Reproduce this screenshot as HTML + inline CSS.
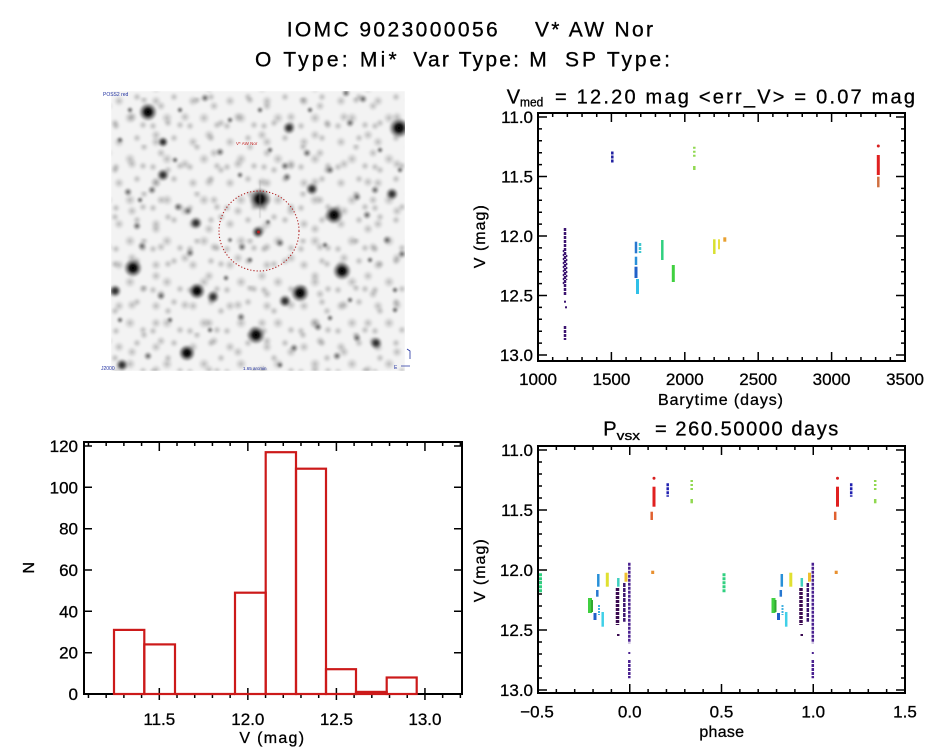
<!DOCTYPE html>
<html><head><meta charset="utf-8"><style>
html,body{margin:0;padding:0;background:#fff;}
svg{display:block;}
text{font-family:"Liberation Sans",sans-serif;fill:#000;stroke:#000;stroke-width:0.3;}
</style></head><body>
<svg width="944" height="747" viewBox="0 0 944 747" xmlns="http://www.w3.org/2000/svg">
<defs>
<filter id="blur" x="0" y="0" width="1" height="1"><feGaussianBlur stdDeviation="0.9"/></filter>
<radialGradient id="fg"><stop offset="0" stop-color="#707070" stop-opacity="0.42"/><stop offset="0.5" stop-color="#888" stop-opacity="0.22"/><stop offset="1" stop-color="#aaa" stop-opacity="0"/></radialGradient>
<radialGradient id="sb"><stop offset="0" stop-color="#000"/><stop offset="0.35" stop-color="#141414"/><stop offset="0.7" stop-color="#5a5a5a" stop-opacity="0.55"/><stop offset="1" stop-color="#aaa" stop-opacity="0"/></radialGradient>
<radialGradient id="sm"><stop offset="0" stop-color="#1e1e1e"/><stop offset="0.4" stop-color="#3c3c3c" stop-opacity="0.85"/><stop offset="1" stop-color="#999" stop-opacity="0"/></radialGradient>
<radialGradient id="ss"><stop offset="0" stop-color="#4a4a4a" stop-opacity="0.9"/><stop offset="0.5" stop-color="#777" stop-opacity="0.5"/><stop offset="1" stop-color="#aaa" stop-opacity="0"/></radialGradient>
<pattern id="bg1" width="37" height="41" patternUnits="userSpaceOnUse" x="111" y="91">
<circle cx="8" cy="10" r="6" fill="url(#fg)"/><circle cx="26" cy="6" r="5" fill="url(#fg)"/><circle cx="19" cy="27" r="6.5" fill="url(#fg)"/><circle cx="32" cy="34" r="5" fill="url(#fg)"/><circle cx="5" cy="35" r="5" fill="url(#fg)"/>
</pattern>
<pattern id="bg2" width="53" height="47" patternUnits="userSpaceOnUse" x="120" y="97">
<circle cx="12" cy="20" r="6" fill="url(#fg)"/><circle cx="41" cy="9" r="5.5" fill="url(#fg)"/><circle cx="36" cy="38" r="6" fill="url(#fg)"/><circle cx="24" cy="3" r="5" fill="url(#fg)"/><circle cx="48" cy="26" r="5" fill="url(#fg)"/>
</pattern>
<clipPath id="imgclip"><rect x="111" y="91" width="294" height="280"/></clipPath>

<path id="p1l" d="M538 117h9M538 128.9h4M538 140.8h4M538 152.7h4M538 164.6h4M538 176.5h9M538 188.4h4M538 200.3h4M538 212.2h4M538 224.1h4M538 236h9M538 247.9h4M538 259.8h4M538 271.7h4M538 283.6h4M538 295.5h9M538 307.4h4M538 319.3h4M538 331.2h4M538 343.1h4M538 355h9" stroke="#000" stroke-width="1.5" fill="none"/>
<path id="p1b" d="M538 361v-9M552.68 361v-4M567.36 361v-4M582.04 361v-4M596.72 361v-4M611.4 361v-9M626.08 361v-4M640.76 361v-4M655.44 361v-4M670.12 361v-4M684.8 361v-9M699.48 361v-4M714.16 361v-4M728.84 361v-4M743.52 361v-4M758.2 361v-9M772.88 361v-4M787.56 361v-4M802.24 361v-4M816.92 361v-4M831.6 361v-9M846.28 361v-4M860.96 361v-4M875.64 361v-4M890.32 361v-4M905 361v-9" stroke="#000" stroke-width="1.5" fill="none"/>
<path id="p2l" d="M538 450h9M538 462h4M538 474h4M538 486h4M538 498h4M538 510h9M538 522h4M538 534h4M538 546h4M538 558h4M538 570h9M538 582h4M538 594h4M538 606h4M538 618h4M538 630h9M538 642h4M538 654h4M538 666h4M538 678h4M538 690h9" stroke="#000" stroke-width="1.5" fill="none"/>
<path id="p2b" d="M538 693v-9M556.35 693v-4M574.7 693v-4M593.05 693v-4M611.4 693v-4M629.75 693v-9M648.1 693v-4M666.45 693v-4M684.8 693v-4M703.15 693v-4M721.5 693v-9M739.85 693v-4M758.2 693v-4M776.55 693v-4M794.9 693v-4M813.25 693v-9M831.6 693v-4M849.95 693v-4M868.3 693v-4M886.65 693v-4M905 693v-9" stroke="#000" stroke-width="1.5" fill="none"/>
<path id="hl" d="M84 694h8M84 652.7h8M84 611.3h8M84 570h8M84 528.7h8M84 487.3h8M84 446h8" stroke="#000" stroke-width="1.5" fill="none"/>

<g id="phA">
<line x1="540.5" y1="573.3" x2="540.5" y2="593.3" stroke="#30d080" stroke-width="3" stroke-dasharray="3 1"/>
<line x1="590" y1="598" x2="590" y2="613" stroke="#40d040" stroke-width="4"/>
<line x1="592" y1="600" x2="592" y2="612" stroke="#30a830" stroke-width="2"/>
<line x1="598.3" y1="574" x2="598.3" y2="586.7" stroke="#2890d8" stroke-width="2.5"/>
<line x1="597.3" y1="590" x2="597.3" y2="596.7" stroke="#2878d0" stroke-width="2.5"/>
<line x1="595" y1="613" x2="595" y2="620" stroke="#2060c8" stroke-width="3"/>
<line x1="599" y1="605" x2="599" y2="615" stroke="#40b0e0" stroke-width="2" stroke-dasharray="2 1"/>
<line x1="602.7" y1="612" x2="602.7" y2="626.7" stroke="#40d0e8" stroke-width="2.5"/>
<line x1="607.3" y1="572.7" x2="607.3" y2="586.7" stroke="#e0e030" stroke-width="3"/>
<line x1="618.3" y1="578" x2="618.3" y2="586.7" stroke="#40d0c0" stroke-width="2.5"/>
<line x1="617.5" y1="588" x2="617.5" y2="625" stroke="#3a0a50" stroke-width="3.5" stroke-dasharray="3 1"/>
<rect x="617" y="634" width="2.5" height="2" fill="#3a0a50"/>
<line x1="624.3" y1="583" x2="624.3" y2="621.7" stroke="#3c1470" stroke-width="2.5" stroke-dasharray="4 1"/>
<line x1="626" y1="572.7" x2="626" y2="581.7" stroke="#f0c030" stroke-width="3"/>
<line x1="629.3" y1="562.7" x2="629.3" y2="643.3" stroke="#4a2090" stroke-width="2.5" stroke-dasharray="3 1"/>
<rect x="628.3" y="652" width="2" height="2" fill="#4a2090"/>
<line x1="629.3" y1="660" x2="629.3" y2="678.3" stroke="#4a2090" stroke-width="2.5" stroke-dasharray="3 1"/>
<line x1="652.7" y1="570.7" x2="652.7" y2="574" stroke="#e89030" stroke-width="3"/>
<circle cx="654" cy="478.3" r="1.5" fill="#d82020"/>
<line x1="654" y1="486.7" x2="654" y2="506.7" stroke="#e02020" stroke-width="3"/>
<line x1="651.7" y1="511.7" x2="651.7" y2="520" stroke="#e06030" stroke-width="2.5"/>
<line x1="667.7" y1="483.3" x2="667.7" y2="496.7" stroke="#2020b0" stroke-width="2.5" stroke-dasharray="3 1"/>
<line x1="691.7" y1="480" x2="691.7" y2="490" stroke="#90d850" stroke-width="2.5" stroke-dasharray="2 2"/>
<line x1="691.7" y1="499" x2="691.7" y2="503.3" stroke="#90d850" stroke-width="2.5"/>
</g>
</defs>

<!-- Main titles -->
<text x="286.7" y="36.7" font-size="21" textLength="211" lengthAdjust="spacing">IOMC 9023000056</text>
<text x="535" y="36.7" font-size="21" textLength="118" lengthAdjust="spacing">V* AW Nor</text>
<text x="255" y="66.5" font-size="21" textLength="141.7" lengthAdjust="spacing">O Type: Mi*</text>
<text x="413.3" y="66.5" font-size="21" textLength="133.4" lengthAdjust="spacing">Var Type: M</text>
<text x="565" y="66.5" font-size="21" textLength="105" lengthAdjust="spacing">SP Type:</text>

<!-- Star field image -->
<g clip-path="url(#imgclip)">
<g filter="url(#blur)">
<rect x="111" y="91" width="294" height="280" fill="#f3f3f3"/>
<rect x="111" y="91" width="294" height="280" fill="url(#bg1)"/>
<rect x="111" y="91" width="294" height="280" fill="url(#bg2)"/>
<g fill="url(#ss)">
<circle cx="188" cy="211" r="5"/><circle cx="178" cy="207" r="5"/><circle cx="357" cy="338" r="5"/><circle cx="294" cy="348" r="5"/><circle cx="307" cy="153" r="5"/><circle cx="285" cy="166" r="5"/><circle cx="287" cy="177" r="5"/><circle cx="220" cy="152" r="5"/><circle cx="161" cy="296" r="5"/><circle cx="148" cy="356" r="5"/><circle cx="402" cy="254" r="5"/><circle cx="387" cy="240" r="5"/><circle cx="241" cy="317" r="5"/><circle cx="318" cy="327" r="5"/><circle cx="337" cy="356" r="5"/><circle cx="280" cy="243" r="5"/><circle cx="242" cy="247" r="5"/><circle cx="190" cy="253" r="5"/><circle cx="142" cy="246" r="5"/><circle cx="137" cy="226" r="5"/><circle cx="367" cy="215" r="5"/><circle cx="357" cy="197" r="5"/><circle cx="375" cy="190" r="5"/><circle cx="128" cy="192" r="5"/><circle cx="152" cy="190" r="5"/><circle cx="330" cy="170" r="5"/><circle cx="350" cy="123" r="5"/><circle cx="363" cy="99" r="5"/><circle cx="205" cy="98" r="5"/><circle cx="346" cy="93" r="5"/><circle cx="175" cy="160" r="4"/><circle cx="240" cy="175" r="4"/><circle cx="270" cy="150" r="4"/><circle cx="325" cy="245" r="4"/><circle cx="226" cy="278" r="4"/><circle cx="350" cy="300" r="4"/><circle cx="395" cy="310" r="4"/><circle cx="120" cy="320" r="4"/><circle cx="170" cy="320" r="4"/><circle cx="280" cy="365" r="4"/><circle cx="380" cy="150" r="4"/><circle cx="400" cy="170" r="4"/><circle cx="230" cy="120" r="4"/><circle cx="120" cy="140" r="4"/><circle cx="140" cy="200" r="4"/><circle cx="250" cy="260" r="4"/><circle cx="268" cy="222" r="3.5"/><circle cx="230" cy="240" r="3.5"/><circle cx="210" cy="330" r="4"/><circle cx="370" cy="260" r="4"/><circle cx="310" cy="110" r="4"/><circle cx="260" cy="110" r="4"/><circle cx="180" cy="110" r="4"/><circle cx="130" cy="110" r="4"/><circle cx="395" cy="290" r="4"/><circle cx="330" cy="318" r="4"/>
</g>
<g fill="url(#sm)">
<circle cx="289" cy="128" r="7"/><circle cx="258" cy="232" r="7"/><circle cx="312" cy="189" r="7"/><circle cx="392" cy="194" r="7"/><circle cx="196" cy="223" r="7"/><circle cx="163" cy="142" r="6"/><circle cx="163" cy="175" r="7"/><circle cx="115" cy="291" r="7"/><circle cx="213" cy="297" r="7"/><circle cx="285" cy="301" r="7"/><circle cx="122" cy="365" r="7"/><circle cx="376" cy="343" r="7"/>
</g>
<g fill="url(#sb)">
<circle cx="148" cy="112" r="10"/><circle cx="399" cy="128" r="11"/><circle cx="260" cy="199" r="12"/><circle cx="334" cy="215" r="10"/><circle cx="133" cy="268" r="10"/><circle cx="342" cy="271" r="10"/><circle cx="197" cy="291" r="9"/><circle cx="300" cy="293" r="10"/><circle cx="256" cy="335" r="10"/><circle cx="187" cy="353" r="9"/>
</g>
<line x1="260" y1="180" x2="260" y2="218" stroke="#888" stroke-width="1" opacity="0.5"/>
</g>
<circle cx="259" cy="231" r="40" fill="none" stroke="#b02020" stroke-width="1.1" stroke-dasharray="1.2 2"/>
<circle cx="258.5" cy="232" r="1.5" fill="#b02020"/>
<text x="236" y="145" font-size="4.5" style="fill:#c02020;stroke:none">V* AW Nor</text>
<text x="243" y="370" font-size="4.5" style="fill:#2030a0;stroke:none">1.65 arcmin</text>
</g>
<text x="103" y="96" font-size="5" style="fill:#2030a0;stroke:none">POSS2 red</text>
<text x="101" y="370" font-size="5" style="fill:#2030a0;stroke:none">J2000</text>
<text x="394" y="369" font-size="5" style="fill:#2030a0;stroke:none">E</text>
<path d="M407 349 l3 2 v8 M401 366 h9" stroke="#2030a0" stroke-width="0.8" fill="none"/>

<!-- Top-right light curve -->
<text x="506.7" y="103.3" font-size="20">V</text>
<text x="520" y="106.7" font-size="12.5" textLength="23.3" lengthAdjust="spacingAndGlyphs">med</text>
<text x="555" y="103.3" font-size="20" textLength="360" lengthAdjust="spacing">= 12.20 mag &lt;err_V&gt; = 0.07 mag</text>
<rect x="538" y="113" width="367" height="248" fill="none" stroke="#000" stroke-width="2"/>
<use href="#p1l"/>
<use href="#p1l" transform="translate(1443,0) scale(-1,1)"/>
<use href="#p1b"/>
<use href="#p1b" transform="translate(0,474) scale(1,-1)"/>
<g font-size="17" text-anchor="end">
<text x="533" y="123">11.0</text><text x="533" y="182.5">11.5</text><text x="533" y="242">12.0</text><text x="533" y="301.5">12.5</text><text x="533" y="361">13.0</text>
</g>
<g font-size="17" text-anchor="middle">
<text x="538" y="385">1000</text><text x="611.4" y="385">1500</text><text x="684.8" y="385">2000</text><text x="758.2" y="385">2500</text><text x="831.6" y="385">3000</text><text x="905" y="385">3500</text>
</g>
<text x="720.5" y="405" font-size="16" text-anchor="middle" textLength="125" lengthAdjust="spacing">Barytime (days)</text>
<text transform="translate(485,236.7) rotate(-90)" font-size="16" text-anchor="middle" textLength="63" lengthAdjust="spacing">V (mag)</text>
<!-- data -->
<line x1="565" y1="228" x2="565" y2="295" stroke="#3c1470" stroke-width="2.5" stroke-dasharray="3 1"/>
<line x1="563.5" y1="250" x2="563.5" y2="285" stroke="#3c1470" stroke-width="1.5" stroke-dasharray="2 2"/>
<line x1="566.6" y1="255" x2="566.6" y2="280" stroke="#3c1470" stroke-width="1.5" stroke-dasharray="2 2"/>
<rect x="564" y="300.7" width="2" height="2" fill="#3c1470"/>
<rect x="565" y="306.3" width="2" height="2" fill="#3c1470"/>
<line x1="565" y1="326" x2="565" y2="340" stroke="#3c1470" stroke-width="2.5" stroke-dasharray="3 1"/>
<line x1="612.3" y1="151.5" x2="612.3" y2="163.5" stroke="#2020a0" stroke-width="2.5" stroke-dasharray="3 1"/>
<line x1="636" y1="241.7" x2="636" y2="253.3" stroke="#2878d0" stroke-width="2.5"/>
<line x1="640" y1="243" x2="640" y2="253" stroke="#40c8d0" stroke-width="2.5" stroke-dasharray="3 1"/>
<line x1="636" y1="256.7" x2="636" y2="265" stroke="#2890d8" stroke-width="2.5"/>
<line x1="636" y1="266.7" x2="636" y2="278" stroke="#2060c8" stroke-width="3"/>
<line x1="637.5" y1="279" x2="637.5" y2="294" stroke="#30c0e8" stroke-width="3"/>
<line x1="662.3" y1="240" x2="662.3" y2="260" stroke="#30d080" stroke-width="2.5"/>
<line x1="673.3" y1="265" x2="673.3" y2="282" stroke="#40d040" stroke-width="3"/>
<line x1="694.3" y1="146.7" x2="694.3" y2="156.7" stroke="#90d850" stroke-width="2.5" stroke-dasharray="2 2"/>
<line x1="694.3" y1="166" x2="694.3" y2="170" stroke="#90d850" stroke-width="2.5"/>
<line x1="714.3" y1="239.3" x2="714.3" y2="254" stroke="#d8e030" stroke-width="2.5"/>
<line x1="719" y1="239.3" x2="719" y2="249.3" stroke="#e8e040" stroke-width="2"/>
<line x1="724.8" y1="237.3" x2="724.8" y2="241.7" stroke="#e8a030" stroke-width="3"/>
<circle cx="878.3" cy="146" r="1.5" fill="#d82020"/>
<line x1="878.3" y1="155" x2="878.3" y2="175" stroke="#e02020" stroke-width="3"/>
<line x1="878.3" y1="176.7" x2="878.3" y2="187.3" stroke="#d07040" stroke-width="2.5"/>

<!-- Histogram -->
<rect x="84" y="442" width="378" height="252" fill="none" stroke="#000" stroke-width="2"/>
<use href="#hl"/>
<use href="#hl" transform="translate(546,0) scale(-1,1)"/>
<path d="M88.46 442v4M106.17 442v4M123.88 442v4M141.59 442v4M159.3 442v9M177.01 442v4M194.72 442v4M212.43 442v4M230.14 442v4M247.85 442v9M265.56 442v4M283.27 442v4M300.98 442v4M318.69 442v4M336.4 442v9M354.11 442v4M371.82 442v4M389.53 442v4M407.24 442v4M424.95 442v9M442.66 442v4M460.37 442v4" stroke="#000" stroke-width="1.5" fill="none"/>
<path d="M88.46 694v4M106.17 694v4M123.88 694v4M141.59 694v4M159.3 688v12M177.01 694v4M194.72 694v4M212.43 694v4M230.14 694v4M247.85 688v12M265.56 694v4M283.27 694v4M300.98 694v4M318.69 694v4M336.4 688v12M354.11 694v4M371.82 694v4M389.53 694v4M407.24 694v4M424.95 688v12M442.66 694v4M460.37 694v4" stroke="#000" stroke-width="1.5" fill="none"/>
<g fill="none" stroke="#cc1a1a" stroke-width="2.2">
<rect x="114" y="629.9" width="30.3" height="64.1"/>
<rect x="144.3" y="644.4" width="30.7" height="49.6"/>
<line x1="175" y1="694" x2="235" y2="694"/>
<rect x="235" y="592.7" width="30.7" height="101.3"/>
<rect x="265.7" y="452.2" width="30.3" height="241.8"/>
<rect x="296" y="468.7" width="30" height="225.3"/>
<rect x="326" y="669.2" width="30" height="24.8"/>
<rect x="356" y="691.9" width="30.7" height="2.1"/>
<rect x="386.7" y="677.5" width="30" height="16.5"/>
</g>
<g font-size="17" text-anchor="end">
<text x="78" y="700">0</text><text x="78" y="658.7">20</text><text x="78" y="617.3">40</text><text x="78" y="576">60</text><text x="78" y="534.7">80</text><text x="78" y="493.3">100</text><text x="78" y="452">120</text>
</g>
<g font-size="17" text-anchor="middle">
<text x="159.3" y="725">11.5</text><text x="247.85" y="725">12.0</text><text x="336.4" y="725">12.5</text><text x="424.95" y="725">13.0</text>
</g>
<text x="271.7" y="743" font-size="16" text-anchor="middle" textLength="64.7" lengthAdjust="spacing">V (mag)</text>
<text transform="translate(34,567.7) rotate(-90)" font-size="16" text-anchor="middle">N</text>

<!-- Phase plot -->
<text x="603.3" y="435.7" font-size="20">P</text>
<text x="616.7" y="440" font-size="12.5" textLength="23.3" lengthAdjust="spacingAndGlyphs">vsx</text>
<text x="655" y="435.7" font-size="20" textLength="183.3" lengthAdjust="spacing">= 260.50000 days</text>
<rect x="538" y="446" width="367" height="247" fill="none" stroke="#000" stroke-width="2"/>
<use href="#p2l"/>
<use href="#p2l" transform="translate(1443,0) scale(-1,1)"/>
<use href="#p2b"/>
<use href="#p2b" transform="translate(0,1139) scale(1,-1)"/>
<g font-size="17" text-anchor="end">
<text x="533" y="456">11.0</text><text x="533" y="516">11.5</text><text x="533" y="576">12.0</text><text x="533" y="636">12.5</text><text x="533" y="696">13.0</text>
</g>
<g font-size="17" text-anchor="middle">
<text x="537" y="717.5">−0.5</text><text x="629.75" y="717.5">0.0</text><text x="721.5" y="717.5">0.5</text><text x="813.25" y="717.5">1.0</text><text x="905" y="717.5">1.5</text>
</g>
<text x="721.7" y="737" font-size="16" text-anchor="middle" textLength="44.7" lengthAdjust="spacing">phase</text>
<text transform="translate(485,570.8) rotate(-90)" font-size="16" text-anchor="middle" textLength="63" lengthAdjust="spacing">V (mag)</text>
<use href="#phA"/>
<use href="#phA" transform="translate(183.5,0)"/>
</svg>
</body></html>
